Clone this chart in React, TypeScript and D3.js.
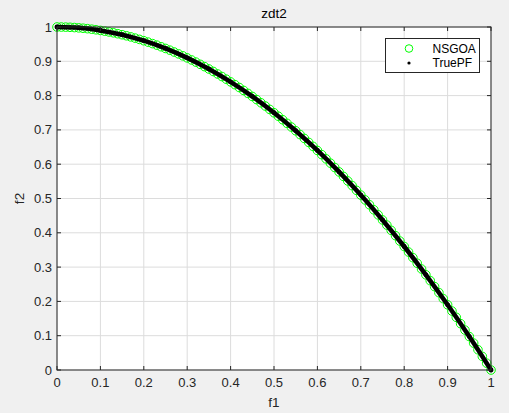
import React from "react";
import * as d3 from "d3";

const nsgoaF1 = [0.00,0.01,0.02,0.03,0.04,0.05,0.06,0.07,0.08,0.09,0.10,0.11,0.12,0.13,0.14,0.15,0.16,0.17,0.18,0.19,0.20,0.21,0.22,0.23,0.24,0.25,0.26,0.27,0.28,0.29,0.30,0.31,0.32,0.33,0.34,0.35,0.36,0.37,0.38,0.39,0.40,0.41,0.42,0.43,0.44,0.45,0.46,0.47,0.48,0.49,0.50,0.51,0.52,0.53,0.54,0.55,0.56,0.57,0.58,0.59,0.60,0.61,0.62,0.63,0.64,0.65,0.66,0.67,0.68,0.69,0.70,0.71,0.72,0.73,0.74,0.75,0.76,0.77,0.78,0.79,0.80,0.81,0.82,0.83,0.84,0.85,0.86,0.87,0.88,0.89,0.90,0.91,0.92,0.93,0.94,0.95,0.96,0.97,0.98,0.99,1.00];
const nsgoaF2 = [1.0,0.9999,0.9996,0.9991,0.9984,0.9975,0.9964,0.9951,0.9936,0.9919,0.99,0.9879,0.9856,0.9831,0.9804,0.9775,0.9744,0.9711,0.9676,0.9639,0.96,0.9559,0.9516,0.9471,0.9424,0.9375,0.9324,0.9271,0.9216,0.9159,0.91,0.9039,0.8976,0.8911,0.8844,0.8775,0.8704,0.8631,0.8556,0.8479,0.84,0.8319,0.8236,0.8151,0.8064,0.7975,0.7884,0.7791,0.7696,0.7599,0.75,0.7399,0.7296,0.7191,0.7084,0.6975,0.6864,0.6751,0.6636,0.6519,0.64,0.6279,0.6156,0.6031,0.5904,0.5775,0.5644,0.5511,0.5376,0.5239,0.51,0.4959,0.4816,0.4671,0.4524,0.4375,0.4224,0.4071,0.3916,0.3759,0.36,0.3439,0.3276,0.3111,0.2944,0.2775,0.2604,0.2431,0.2256,0.2079,0.19,0.1719,0.1536,0.1351,0.1164,0.0975,0.0784,0.0591,0.0396,0.0199,0.0];

const trueF1 = [0.00,0.05,0.10,0.15,0.20,0.25,0.30,0.35,0.40,0.45,0.50,0.55,0.60,0.65,0.70,0.75,0.80,0.85,0.90,0.95,1.00];
const trueF2 = [1.0,0.9975,0.99,0.9775,0.96,0.9375,0.91,0.8775,0.84,0.7975,0.75,0.6975,0.64,0.5775,0.51,0.4375,0.36,0.2775,0.19,0.0975,0.0];

const xTicks = [0,0.1,0.2,0.3,0.4,0.5,0.6,0.7,0.8,0.9,1];
const yTicks = [0,0.1,0.2,0.3,0.4,0.5,0.6,0.7,0.8,0.9,1];
const legendLabels = ["NSGOA", "TruePF"];

const W = 509, H = 413;
const L = 57, R = 491, T = 27, B = 370;
const FONT = "'Liberation Sans', Arial, Helvetica, sans-serif";
const TXT = "#262626";

export default function App() {
  const x = d3.scaleLinear().domain([0, 1]).range([L, R]);
  const y = d3.scaleLinear().domain([0, 1]).range([B, T]);
  const truePts = trueF1.map((v, i) => [v, trueF2[i]] as [number, number]);
  const line = d3.line<[number, number]>().x(d => x(d[0])).y(d => y(d[1])).curve(d3.curveCatmullRom);
  const fmt = (v: number) => (v === 0 ? "0" : v === 1 ? "1" : String(v));

  return (
    <svg width={W} height={H} style={{ position: "absolute", left: 0, top: 0 }} fontFamily={FONT}>
      <rect x={0} y={0} width={W} height={H} fill="#f0f0f0" />
      <rect x={L} y={T} width={R - L} height={B - T} fill="#ffffff" />
      {xTicks.map(t => (
        <line key={"gx" + t} x1={x(t)} x2={x(t)} y1={T} y2={B} stroke="#dcdcdc" strokeWidth={1} />
      ))}
      {yTicks.map(t => (
        <line key={"gy" + t} x1={L} x2={R} y1={y(t)} y2={y(t)} stroke="#dcdcdc" strokeWidth={1} />
      ))}
      {nsgoaF1.map((v, i) => (
        <circle key={"n" + i} cx={x(v)} cy={y(nsgoaF2[i])} r={4.3} fill="none" stroke="#00ff00" strokeWidth={1} />
      ))}
      <path d={line(truePts) || ""} fill="none" stroke="#000" strokeWidth={4.5} strokeLinecap="round" />
      {truePts.map((p, i) => (
        <circle key={"t" + i} cx={x(p[0])} cy={y(p[1])} r={2.4} fill="#000" />
      ))}
      <rect x={L} y={T} width={R - L} height={B - T} fill="none" stroke="#262626" strokeWidth={1} />
      {xTicks.map(t => (
        <g key={"tx" + t}>
          <line x1={x(t)} x2={x(t)} y1={B} y2={B - 4} stroke="#262626" />
          <line x1={x(t)} x2={x(t)} y1={T} y2={T + 4} stroke="#262626" />
          <text x={x(t)} y={B + 17} textAnchor="middle" fontSize={13} fill={TXT}>{fmt(t)}</text>
        </g>
      ))}
      {yTicks.map(t => (
        <g key={"ty" + t}>
          <line x1={L} x2={L + 4} y1={y(t)} y2={y(t)} stroke="#262626" />
          <line x1={R} x2={R - 4} y1={y(t)} y2={y(t)} stroke="#262626" />
          <text x={L - 5} y={y(t) + 4.5} textAnchor="end" fontSize={13} fill={TXT}>{fmt(t)}</text>
        </g>
      ))}
      <text x={(L + R) / 2} y={18} textAnchor="middle" fontSize={13.5} fill="#000">zdt2</text>
      <text x={(L + R) / 2} y={407} textAnchor="middle" fontSize={13.5} fill={TXT}>f1</text>
      <text transform={`translate(24,${(T + B) / 2}) rotate(-90)`} textAnchor="middle" fontSize={13.5} fill={TXT}>f2</text>
      <g>
        <rect x={385.5} y={38.5} width={94} height={34} fill="#fff" stroke="#262626" strokeWidth={1} />
        <circle cx={409} cy={48.5} r={3.8} fill="none" stroke="#00ff00" strokeWidth={1} />
        <circle cx={409} cy={63} r={1.6} fill="#000" />
        <text x={432.5} y={52.5} fontSize={12} fill="#000">{legendLabels[0]}</text>
        <text x={432.5} y={67} fontSize={12} fill="#000">{legendLabels[1]}</text>
      </g>
    </svg>
  );
}
